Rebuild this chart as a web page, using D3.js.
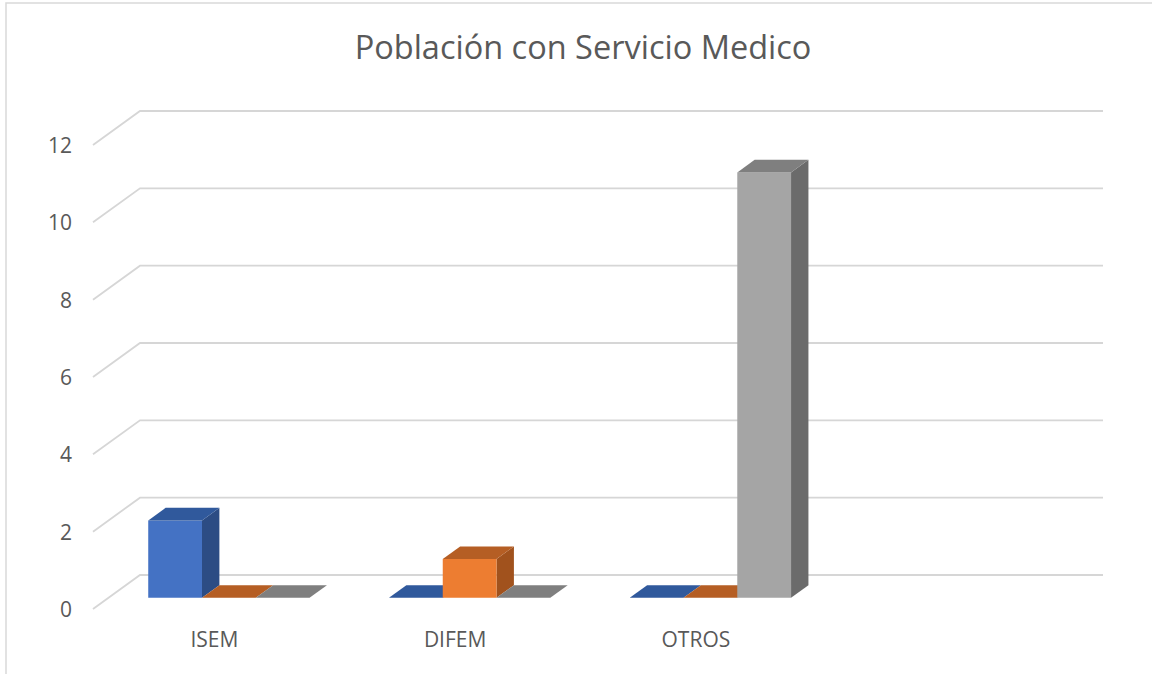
<!DOCTYPE html>
<html>
<head>
<meta charset="utf-8">
<script src="https://cdn.jsdelivr.net/npm/d3@7"></script>
<style>
  body { margin: 0; background: #fff; }
  text { font-family: "Open Sans", "Noto Sans", sans-serif; fill: #595959; }
</style>
</head>
<body>
<div id="chart"></div>
<script>
const categories = ['ISEM', 'DIFEM', 'OTROS', ''];
const seriesNames = ['Serie1', 'Serie2', 'Serie3'];
const serie1 = [2, 0, 0, 0];
const serie2 = [0, 1, 0, 0];
const serie3 = [0, 0, 11, 0];
const yTicks = [0, 2, 4, 6, 8, 10, 12];

// front / side / top colours per series
const faceColors = [
    { front: '#4472c4', top: '#30599c', side: '#2c4c84' },
    { front: '#ed7d31', top: '#b55e24', side: '#a1521d' },
    { front: '#a5a5a5', top: '#7f7f7f', side: '#6b6b6b' }
];

const width = 1152, height = 674;
const svg = d3.select('#chart').append('svg')
    .attr('width', width).attr('height', height);

// outer frame
svg.append('rect')
    .attr('x', 6).attr('y', 3)
    .attr('width', width + 20).attr('height', height + 20)
    .attr('fill', 'none').attr('stroke', '#d9d9d9').attr('stroke-width', 1.5);

svg.append('text')
    .attr('x', 583).attr('y', 59)
    .attr('text-anchor', 'middle')
    .style('font-size', '32.5px')
    .text('Población con Servicio Medico');

// front plane scales, depth gives an oblique offset
const DX = 47, DY = 34;
const x = d3.scaleBand().domain(categories).range([93, 1056])
    .paddingInner(0.33).paddingOuter(0.165);
const xs = d3.scaleBand().domain(seriesNames).range([0, x.bandwidth()]);
const y = d3.scaleLinear().domain([0, 12]).range([609, 145]);
const proj = (px, v, t) => [px + t * DX, y(v) - t * DY];

// gridlines on side wall and back wall
const grid = svg.append('g');
yTicks.forEach(v => {
    const pts = [proj(x.range()[0], v, 0), proj(x.range()[0], v, 1), proj(x.range()[1], v, 1)];
    grid.append('polyline')
        .attr('points', pts.map(p => p.join(',')).join(' '))
        .attr('fill', 'none').attr('stroke', '#d6d6d6').attr('stroke-width', 1.8);
});

svg.append('g').selectAll('text').data(yTicks).join('text')
    .attr('x', 72).attr('y', d => y(d))
    .attr('text-anchor', 'end').attr('dominant-baseline', 'central')
    .style('font-size', '21px')
    .text(d => d);

svg.append('g').selectAll('text').data(categories).join('text')
    .attr('x', d => x(d) + x.bandwidth() / 2 + 1).attr('y', 647)
    .attr('text-anchor', 'middle')
    .style('font-size', '21px')
    .text(d => d);

// bars
const t0 = 0.33, t1 = 0.70;
const allSeries = [serie1, serie2, serie3];
const bars = [];
categories.forEach((c, ci) => {
    if (c === '') return;
    seriesNames.forEach((s, si) => {
        bars.push({ x0: x(c) + xs(s), x1: x(c) + xs(s) + xs.bandwidth(), v: allSeries[si][ci], si });
    });
});
const poly = pts => pts.map(p => p.join(',')).join(' ');
const gBars = svg.append('g');
bars.forEach(b => {
    const col = faceColors[b.si];
    const g = gBars.append('g');
    const fTL = proj(b.x0, b.v, t0), fTR = proj(b.x1, b.v, t0);
    const fBL = proj(b.x0, 0, t0), fBR = proj(b.x1, 0, t0);
    const bTL = proj(b.x0, b.v, t1), bTR = proj(b.x1, b.v, t1);
    const bBR = proj(b.x1, 0, t1);
    if (b.v > 0) {
        g.append('polygon').attr('points', poly([fTR, bTR, bBR, fBR])).attr('fill', col.side);
        g.append('polygon').attr('points', poly([fTL, fTR, fBR, fBL])).attr('fill', col.front);
    }
    g.append('polygon').attr('points', poly([fTL, fTR, bTR, bTL])).attr('fill', col.top);
});
</script>
</body>
</html>
